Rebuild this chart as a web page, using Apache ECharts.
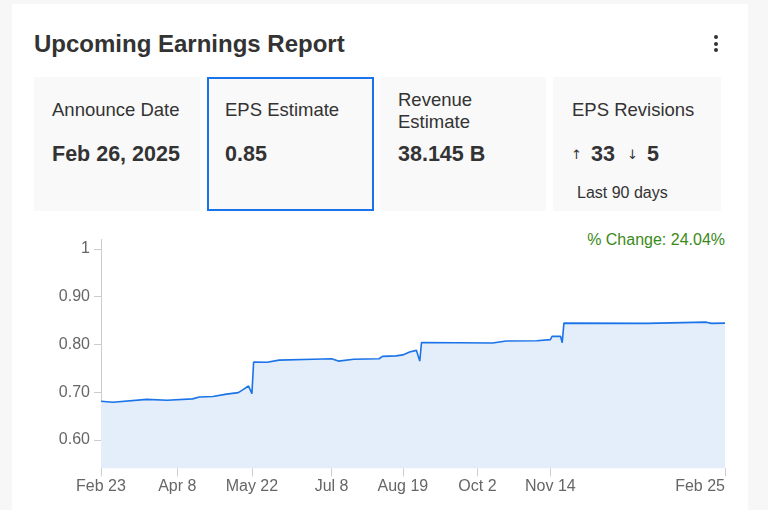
<!DOCTYPE html>
<html>
<head>
<meta charset="utf-8">
<script src="https://cdn.jsdelivr.net/npm/echarts@6/dist/echarts.min.js"></script>
<style>
  html, body { margin:0; padding:0; width:768px; height:510px; overflow:hidden; background:#f7f7f7; font-family:"Liberation Sans", Arial, sans-serif; color:#333; }
  .card { position:absolute; left:12px; top:4px; width:736px; height:520px; background:#fff; }
  .abs { position:absolute; white-space:nowrap; line-height:normal; }
  .title { left:34px; top:30px; font-size:24px; font-weight:bold; color:#333; }
  .box { position:absolute; top:77px; height:134px; background:#f9f9f9; box-sizing:border-box; }
  .sel { border:2px solid #1a73e8; }
  .lbl { font-size:18.5px; color:#333; }
  .val { font-size:21.5px; font-weight:bold; color:#333; }
  .arr { font-family:"DejaVu Sans", sans-serif; font-size:13px; color:#333; }
  .dot { position:absolute; width:4px; height:4px; border-radius:2px; background:#333; left:714px; }
  #chart { position:absolute; left:0; top:220px; width:768px; height:290px; }
  .chg { right:43px; top:230.8px; font-size:16px; color:#3a8a1a; }
</style>
</head>
<body>
<div class="card"></div>
<div class="abs title">Upcoming Earnings Report</div>
<div class="dot" style="top:35px"></div>
<div class="dot" style="top:42px"></div>
<div class="dot" style="top:48px"></div>

<div class="box" style="left:34px;width:166px"></div>
<div class="box sel" style="left:207px;width:167px"></div>
<div class="box" style="left:380px;width:166px"></div>
<div class="box" style="left:553px;width:168px"></div>

<div class="abs lbl" style="left:52px;top:99px">Announce Date</div>
<div class="abs val" style="left:52px;top:142.2px">Feb 26, 2025</div>

<div class="abs lbl" style="left:225px;top:99px">EPS Estimate</div>
<div class="abs val" style="left:225px;top:142.2px">0.85</div>

<div class="abs lbl" style="left:398px;top:89.3px;white-space:normal;width:120px">Revenue<br>Estimate</div>
<div class="abs val" style="left:398px;top:142.2px">38.145 B</div>

<div class="abs lbl" style="left:572px;top:99px">EPS Revisions</div>
<div class="abs arr" style="left:571px;top:147px">↑</div>
<div class="abs val" style="left:591px;top:142.2px">33</div>
<div class="abs arr" style="left:627px;top:147px">↓</div>
<div class="abs val" style="left:647px;top:142.2px">5</div>
<div class="abs" style="left:577px;top:183.8px;font-size:16px;color:#333">Last 90 days</div>

<div class="abs chg">% Change: 24.04%</div>
<div id="chart"></div>
<script>
const dates = ['2024-02-23','2024-03-01','2024-03-21','2024-04-02','2024-04-17','2024-04-21','2024-04-29','2024-04-30','2024-05-07','2024-05-14','2024-05-17','2024-05-20','2024-05-22','2024-05-23','2024-05-31','2024-06-07','2024-06-27','2024-07-08','2024-07-12','2024-07-21','2024-08-05','2024-08-07','2024-08-15','2024-08-19','2024-08-23','2024-08-27','2024-08-28','2024-08-29','2024-08-30','2024-10-11','2024-10-19','2024-11-06','2024-11-14','2024-11-15','2024-11-20','2024-11-21','2024-11-22','2025-01-10','2025-02-14','2025-02-17','2025-02-25'];
const eps = [0.681,0.679,0.685,0.683,0.686,0.690,0.691,0.694,0.696,0.699,0.706,0.713,0.697,0.763,0.7625,0.767,0.769,0.770,0.765,0.769,0.770,0.775,0.776,0.778,0.784,0.7875,0.787,0.765,0.804,0.803,0.807,0.8075,0.810,0.8167,0.817,0.8035,0.8445,0.844,0.8465,0.844,0.8445];
const xTickDates = ['2024-02-23','2024-04-08','2024-05-22','2024-07-08','2024-08-19','2024-10-02','2024-11-14','2025-02-25'];
const yTicks = [0.6,0.7,0.8,0.9,1];
const monthNames = ['Jan','Feb','Mar','Apr','May','Jun','Jul','Aug','Sep','Oct','Nov','Dec'];

function ts(s){ const p = s.split('-').map(Number); return new Date(p[0], p[1]-1, p[2]).getTime(); }
const xTicks = xTickDates.map(ts);
const FONT = '"Liberation Sans", Arial, sans-serif';

const chart = echarts.init(document.getElementById('chart'), null, {renderer:'canvas'});
chart.setOption({
  animation:false,
  grid:{left:101, right:43, top:19.5, bottom:41.7},
  xAxis:{
    type:'value',
    min: ts(dates[0]), max: ts(dates[dates.length-1]),
    axisLine:{show:false},
    axisTick:{show:true, customValues:xTicks, length:8, lineStyle:{color:'#ccc'}},
    axisLabel:{customValues:xTicks, color:'#666', fontSize:16, fontFamily:FONT, margin:10,
      alignMaxLabel:'right', alignMinLabel:'center',
      formatter:function(v){ const d = new Date(v); return monthNames[d.getMonth()] + ' ' + d.getDate(); }},
    splitLine:{show:false}
  },
  yAxis:{
    type:'value', min:0.5407, max:1.0195,
    axisLine:{show:true, lineStyle:{color:'#ccc'}},
    axisTick:{show:true, customValues:yTicks, length:7, lineStyle:{color:'#ccc'}},
    axisLabel:{customValues:yTicks, color:'#666', fontSize:16, fontFamily:FONT, margin:11,
      formatter:function(v){ return Math.abs(v-1)<1e-9 ? '1' : v.toFixed(2); }},
    splitLine:{show:false}
  },
  series:[{
    type:'line',
    data: dates.map((d,i)=>[ts(d), eps[i]]),
    symbol:'none',
    lineStyle:{color:'#1a73e8', width:1.6},
    itemStyle:{color:'#1a73e8'},
    areaStyle:{color:'#e3eefa', origin:'start', opacity:1}
  }]
});
</script>
</body>
</html>
